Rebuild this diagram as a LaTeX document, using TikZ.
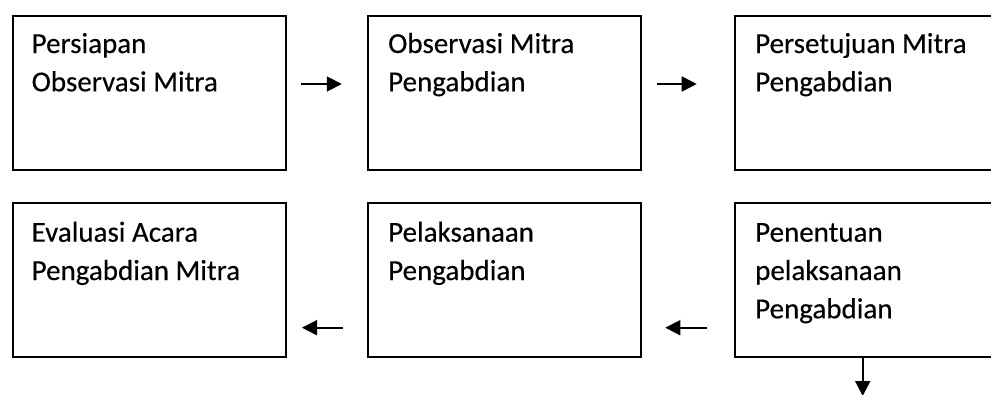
\documentclass[tikz,border=0pt]{standalone}
\usepackage{fontspec}
\setmainfont[FakeBold=0.3]{Carlito}
\usetikzlibrary{arrows.meta}
\begin{document}
\begin{tikzpicture}[x=1pt,y=-1pt,
  box/.style={draw, line width=2pt, rectangle, minimum width=273pt, minimum height=154pt, anchor=north west, inner sep=0pt},
  txt/.style={anchor=base west, inner sep=0pt, font=\fontsize{29}{38.3}\selectfont},
  arr/.style={-{Triangle[length=15pt,width=15pt]}, line width=1.8pt}]
\useasboundingbox (0,0) rectangle (991,394);
% row 1
\node[box] (b1) at (12,14.7) {};
\node[box] (b2) at (367.3,14.7) {};
\node[box] (b3) at (734,14.7) {};
% row 2
\node[box] (b4) at (12,202) {};
\node[box] (b5) at (367.3,202) {};
\node[box] (b6) at (734,202) {};
% texts
\node[txt] (t1) at ([xshift=19.5pt,yshift=-38.3pt]b1.north west) {\parbox[t]{250pt}{Persiapan\\Observasi Mitra}};
\node[txt] (t2) at ([xshift=20.7pt,yshift=-38.3pt]b2.north west) {\parbox[t]{250pt}{Observasi Mitra\\Pengabdian}};
\node[txt] (t3) at ([xshift=21pt,yshift=-38.3pt]b3.north west) {\parbox[t]{250pt}{Persetujuan Mitra\\Pengabdian}};
\node[txt] (t4) at ([xshift=19.5pt,yshift=-39.7pt]b4.north west) {\parbox[t]{250pt}{Evaluasi Acara\\Pengabdian Mitra}};
\node[txt] (t5) at ([xshift=20.7pt,yshift=-39.7pt]b5.north west) {\parbox[t]{250pt}{Pelaksanaan\\Pengabdian}};
\node[txt] (t6) at ([xshift=21pt,yshift=-39.7pt]b6.north west) {\parbox[t]{250pt}{Penentuan\\pelaksanaan\\Pengabdian}};
% connectors
\draw[arr, shorten <=14pt, shorten >=25.5pt] ([yshift=8.7pt]b1.east) -- ([yshift=8.7pt]b2.west);
\draw[arr, shorten <=14.7pt, shorten >=37.3pt] ([yshift=8.7pt]b2.east) -- ([yshift=8.7pt]b3.west);
\draw[arr, shorten <=27.3pt, shorten >=23pt] ([yshift=-47.7pt]b6.west) -- ([yshift=-47.7pt]b5.east);
\draw[arr, shorten <=24.3pt, shorten >=15pt] ([yshift=-47.7pt]b5.west) -- ([yshift=-47.7pt]b4.east);
\coordinate (e) at (862.7,396);
\draw[arr] (b6.south -| e) -- (e);
\end{tikzpicture}
\end{document}
